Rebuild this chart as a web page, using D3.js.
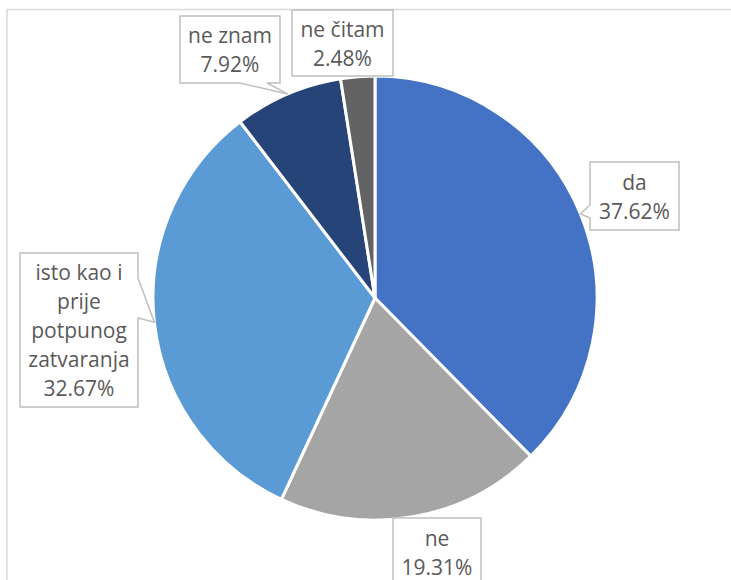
<!DOCTYPE html>
<html>
<head>
<meta charset="utf-8">
<script src="https://cdn.jsdelivr.net/npm/d3@7"></script>
<style>
  body { margin: 0; background: #fff; }
  svg { display: block; }
  .lbl text { font-family: "Open Sans", sans-serif; font-size: 21px; fill: #595959; }
</style>
</head>
<body>
<svg></svg>
<script>
// ---------------- data ----------------
const categories = ['da', 'ne', 'isto kao i prije potpunog zatvaranja', 'ne znam', 'ne čitam'];
const shares     = [37.62, 19.31, 32.67, 7.92, 2.48];
const labelLines = [['da'], ['ne'], ['isto kao i', 'prije', 'potpunog', 'zatvaranja'], ['ne znam'], ['ne čitam']];
const colors     = ['#4472C4', '#A5A5A5', '#5B9BD5', '#264478', '#636363'];

// ---------------- layout ----------------
const width = 731, height = 580;
const cx = 375, cy = 298, r = 222;
// callout boxes [x, y, w, h] and tail base (side, from, to offsets along the side)
const boxes = [
  { x: 590, y: 162, w: 89,  h: 68,  tail: ['left', 43, 56] },
  { x: 393, y: 518, w: 88,  h: 68,  tail: null },
  { x: 20,  y: 253, w: 118, h: 154, tail: ['right', 25, 65] },
  { x: 180, y: 16,  w: 100, h: 67,  tail: ['bottom', 60, 87] },
  { x: 292, y: 10,  w: 101, h: 66,  tail: null }
];
const lineH = 29;

const svg = d3.select('svg').attr('width', width).attr('height', height);

// chart frame
svg.append('rect')
  .attr('x', 7).attr('y', 9.5)
  .attr('width', width + 20).attr('height', height + 20)
  .attr('fill', 'none').attr('stroke', '#d9d9d9').attr('stroke-width', 1.5);

const pie = d3.pie().sort(null).value(d => d)(shares);
const arc = d3.arc().innerRadius(0).outerRadius(r);

const g = svg.append('g').attr('transform', `translate(${cx},${cy})`);
g.selectAll('path.slice')
  .data(pie)
  .join('path')
  .attr('class', 'slice')
  .attr('d', arc)
  .attr('fill', (d, i) => colors[i])
  .attr('stroke', '#fff')
  .attr('stroke-width', 3)
  .attr('stroke-linejoin', 'round');

//---------- callouts
function calloutPath(b, tip) {
  const x0 = b.x, y0 = b.y, x1 = b.x + b.w, y1 = b.y + b.h;
  const t = b.tail;
  const p = d3.path();
  p.moveTo(x0, y0);
  p.lineTo(x1, y0);
  if (t && t[0] === 'right') {
    p.lineTo(x1, y0 + t[1]); p.lineTo(tip[0], tip[1]); p.lineTo(x1, y0 + t[2]);
  }
  p.lineTo(x1, y1);
  if (t && t[0] === 'bottom') {
    p.lineTo(x0 + t[2], y1); p.lineTo(tip[0], tip[1]); p.lineTo(x0 + t[1], y1);
  }
  p.lineTo(x0, y1);
  if (t && t[0] === 'left') {
    p.lineTo(x0, y0 + t[2]); p.lineTo(tip[0], tip[1]); p.lineTo(x0, y0 + t[1]);
  }
  p.closePath();
  return p.toString();
}

const labels = svg.selectAll('g.lbl')
  .data(pie)
  .join('g')
  .attr('class', 'lbl');

labels.append('path')
  .attr('d', (d, i) => {
    const a = (d.startAngle + d.endAngle) / 2;
    const tip = [cx + r * Math.sin(a), cy - r * Math.cos(a)];
    return calloutPath(boxes[i], tip);
  })
  .attr('fill', '#fff')
  .attr('stroke', '#bfbfbf')
  .attr('stroke-width', 1.5);

labels.each(function (d, i) {
  const b = boxes[i];
  const lines = labelLines[i].concat([shares[i].toFixed(2) + '%']);
  const mid = b.y + b.h / 2;
  d3.select(this).selectAll('text')
    .data(lines)
    .join('text')
    .attr('x', b.x + b.w / 2)
    .attr('y', (s, k) => mid + (k - (lines.length - 1) / 2) * lineH + 8)
    .attr('text-anchor', 'middle')
    .text(s => s);
});
</script>
</body>
</html>
